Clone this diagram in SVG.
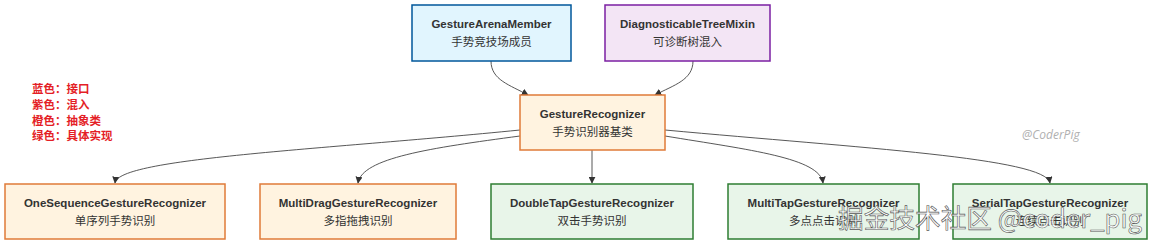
<svg xmlns="http://www.w3.org/2000/svg" width="1153" height="245" viewBox="0 0 1153 245">
<style>
.t{font-family:"Liberation Sans","Noto Sans CJK SC",sans-serif;font-size:11.5px;font-weight:bold;fill:#333;text-anchor:middle}
.c{font-family:"Noto Sans CJK SC","Liberation Sans",sans-serif;font-size:11.5px;fill:#333;text-anchor:middle}
.blue{fill:#e1f5fe;stroke:#01579b;stroke-width:1.5}
.purple{fill:#f3e5f5;stroke:#7b1fa2;stroke-width:1.5}
.orange{fill:#fff3e0;stroke:#e07b39;stroke-width:1.5}
.green{fill:#e8f5e9;stroke:#2e7d32;stroke-width:1.5}
.e{fill:none;stroke:#444;stroke-width:0.9;marker-end:url(#a)}
.leg{font-family:"Noto Sans CJK SC",sans-serif;font-size:11.5px;font-weight:bold;fill:#e41e26}
</style>
<defs>
<marker id="a" viewBox="0 0 10 10" refX="9" refY="5" markerWidth="7" markerHeight="7" markerUnits="userSpaceOnUse" orient="auto">
<path d="M0,0L10,5L0,10z" fill="#333"/>
</marker>
</defs>
<rect width="1153" height="245" fill="#fff"/>
<g id="legend">
<text class="leg" x="32" y="93">蓝色：接口</text>
<text class="leg" x="32" y="109">紫色：混入</text>
<text class="leg" x="32" y="125">橙色：抽象类</text>
<text class="leg" x="32" y="140">绿色：具体实现</text>
</g>
<g id="edges">
<path class="e" d="M491,61 C491,80 510,85 528,95"/>
<path class="e" d="M693,61 C693,80 674,85 655,95"/>
<path class="e" d="M520,130 C320,150 118,158 115,183"/>
<path class="e" d="M520,136 C430,148 362,158 358,183"/>
<path class="e" d="M592,150 L592,183"/>
<path class="e" d="M665,136 C750,150 820,158 823,183"/>
<path class="e" d="M665,130 C860,148 1046,158 1050,183"/>
</g>
<g id="GestureArenaMember">
<rect class="blue" x="412" y="5" width="159" height="56"/>
<text class="t" x="491.5" y="28">GestureArenaMember</text>
<text class="c" x="491.5" y="46">手势竞技场成员</text>
</g>
<g id="DiagnosticableTreeMixin">
<rect class="purple" x="605" y="5" width="165" height="56"/>
<text class="t" x="687.5" y="28">DiagnosticableTreeMixin</text>
<text class="c" x="687.5" y="46">可诊断树混入</text>
</g>
<g id="GestureRecognizer">
<rect class="orange" x="520" y="95" width="145" height="55"/>
<text class="t" x="592.5" y="118">GestureRecognizer</text>
<text class="c" x="592.5" y="136">手势识别器基类</text>
</g>
<g id="OneSequenceGestureRecognizer">
<rect class="orange" x="5" y="184" width="220" height="55"/>
<text class="t" x="115" y="207">OneSequenceGestureRecognizer</text>
<text class="c" x="115" y="225">单序列手势识别</text>
</g>
<g id="MultiDragGestureRecognizer">
<rect class="orange" x="260" y="184" width="196" height="55"/>
<text class="t" x="358" y="207">MultiDragGestureRecognizer</text>
<text class="c" x="358" y="225">多指拖拽识别</text>
</g>
<g id="DoubleTapGestureRecognizer">
<rect class="green" x="491" y="184" width="202" height="55"/>
<text class="t" x="592" y="207">DoubleTapGestureRecognizer</text>
<text class="c" x="592" y="225">双击手势识别</text>
</g>
<g id="MultiTapGestureRecognizer">
<rect class="green" x="728" y="184" width="191" height="55"/>
<text class="t" x="823.5" y="207">MultiTapGestureRecognizer</text>
<text class="c" x="823.5" y="225">多点点击识别</text>
</g>
<g id="SerialTapGestureRecognizer">
<rect class="green" x="953" y="184" width="194" height="55"/>
<text class="t" x="1050" y="207">SerialTapGestureRecognizer</text>
<text class="c" x="1050" y="225">连续点击识别</text>
</g>
<text x="1022" y="139" font-family="Open Sans,sans-serif" font-style="italic" font-size="12" fill="#b0b0b0">@CoderPig</text>
<text x="838" y="228" textLength="304" lengthAdjust="spacingAndGlyphs" font-family="Noto Sans CJK SC,sans-serif" font-size="26" fill="#fff" fill-opacity="0.8" stroke="#555" stroke-width="0.6">掘金技术社区 @coder_pig</text>
</svg>
